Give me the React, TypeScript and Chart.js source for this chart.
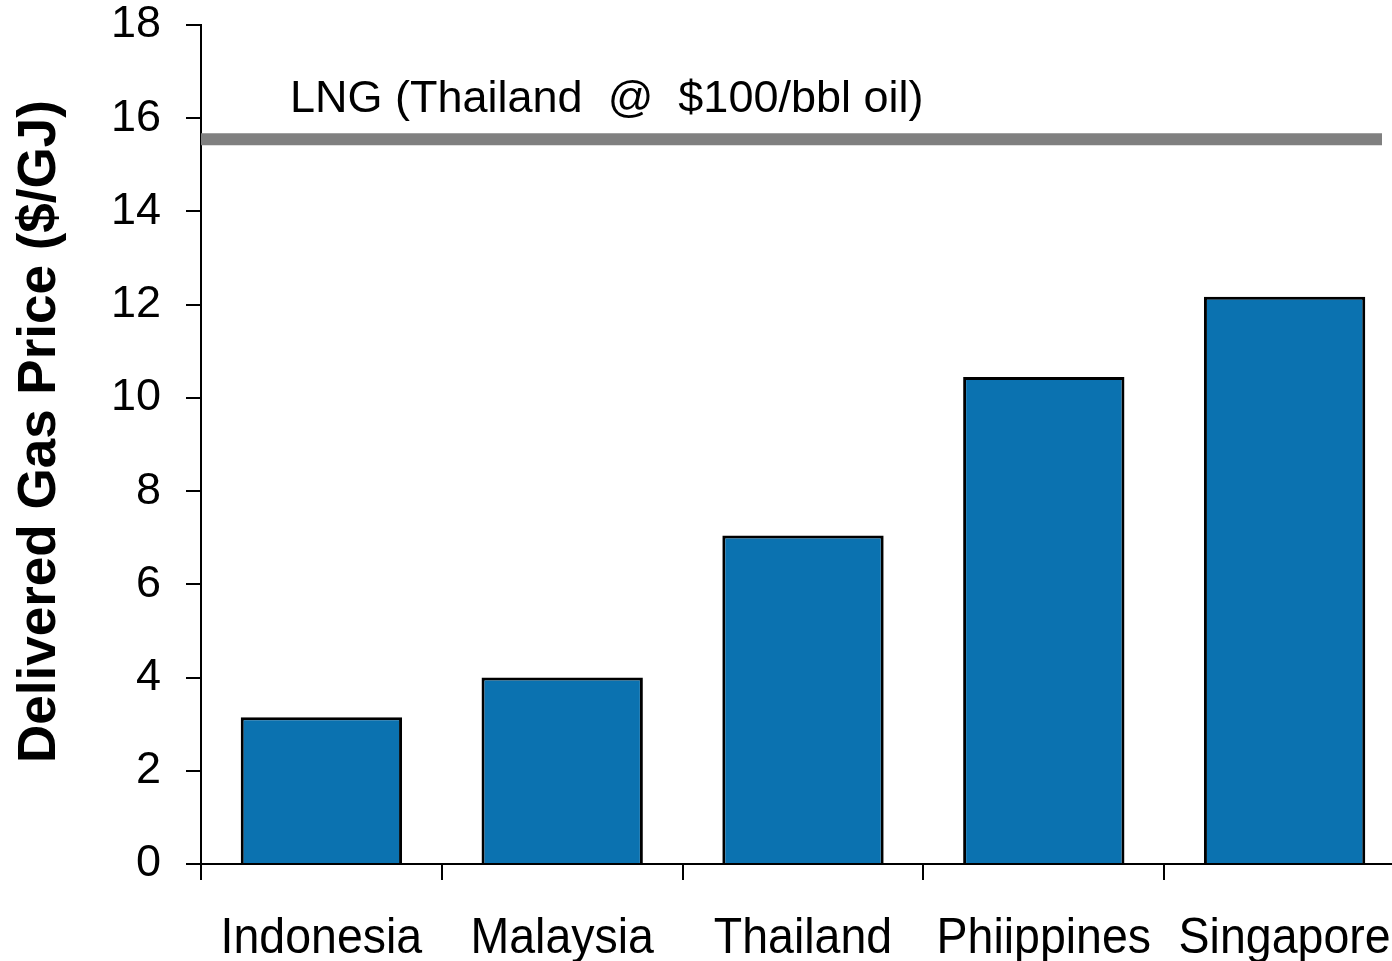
import React, { useEffect, useRef } from "react";
import { Chart, registerables } from "chart.js";

Chart.register(...registerables);

const categories = ["Indonesia", "Malaysia", "Thailand", "Phiippines", "Singapore"];
const prices = [3.15, 4.0, 7.05, 10.45, 12.17];
const lngPrice = 15.55;
const lngLabel = "LNG (Thailand  @  $100/bbl oil)";
const yMin = 0;
const yMax = 18;
const yStep = 2;
const yTitle = "Delivered Gas Price ($/GJ)";

const FONT = "'Liberation Sans', Arial, Helvetica, sans-serif";

const lngPlugin = {
  id: "lngLine",
  afterDatasetsDraw(chart: any) {
    const { ctx, chartArea, scales } = chart;
    const y = scales.y.getPixelForValue(lngPrice);
    ctx.save();
    ctx.strokeStyle = "#808080";
    ctx.lineWidth = 12;
    ctx.beginPath();
    ctx.moveTo(chartArea.left, y);
    ctx.lineTo(chartArea.right - 23, y);
    ctx.stroke();
    ctx.fillStyle = "#000";
    ctx.font = `45px ${FONT}`;
    ctx.textBaseline = "alphabetic";
    ctx.textAlign = "left";
    ctx.fillText(lngLabel, chartArea.left + 89, y - 27);

    // category labels (slightly condensed, as in the reference)
    ctx.font = `50px ${FONT}`;
    ctx.textAlign = "center";
    const baseY = chartArea.bottom + 89;
    categories.forEach((c, i) => {
      const x = scales.x.getPixelForValue(i);
      ctx.save();
      ctx.translate(x, baseY);
      ctx.scale(0.93, 1);
      ctx.fillText(c, 0, 0);
      ctx.restore();
    });

    // y-axis title
    ctx.translate(40, (chartArea.top + chartArea.bottom) / 2 - 13);
    ctx.rotate(-Math.PI / 2);
    ctx.font = `bold 53px ${FONT}`;
    ctx.textAlign = "center";
    ctx.textBaseline = "middle";
    ctx.fillText(yTitle, 0, 0);
    ctx.restore();
  },
};

export default function App() {
  const ref = useRef<HTMLCanvasElement | null>(null);
  useEffect(() => {
    if (!ref.current) return;
    const chart = new Chart(ref.current, {
      type: "bar",
      data: {
        labels: categories,
        datasets: [
          {
            data: prices,
            backgroundColor: "#0b72b0",
            borderColor: "#000",
            borderWidth: 3,
            barPercentage: 0.67,
            categoryPercentage: 1,
          },
        ],
      },
      options: {
        animation: false,
        responsive: true,
        maintainAspectRatio: false,
        layout: { padding: { top: 25, right: 5, left: 0, bottom: 0 } },
        plugins: { legend: { display: false }, tooltip: { enabled: false } },
        scales: {
          x: {
            offset: true,
            grid: {
              display: true,
              offset: true,
              drawOnChartArea: false,
              drawTicks: true,
              tickLength: 16,
              color: "#000",
              lineWidth: 2,
            },
            border: { display: true, color: "#000", width: 2 },
            ticks: {
              display: false,
              autoSkip: false,
            },
            afterFit(scale: any) {
              scale.height = 97;
              scale.paddingLeft = 0;
              scale.paddingRight = 0;
            },
          },
          y: {
            min: yMin,
            max: yMax,
            grid: {
              display: true,
              drawOnChartArea: false,
              drawTicks: true,
              tickLength: 15,
              color: "#000",
              lineWidth: 2,
            },
            border: { display: true, color: "#000", width: 2 },
            ticks: {
              stepSize: yStep,
              color: "#000",
              font: { family: FONT, size: 45, lineHeight: 1.0 },
              padding: 25,
            },
            title: { display: false },
            afterFit(scale: any) {
              scale.width = 201;
              scale.paddingTop = 0;
              scale.paddingBottom = 0;
            },
          },
        },
      },
      plugins: [lngPlugin],
    });
    return () => chart.destroy();
  }, []);

  return (
    <div
      style={{
        position: "fixed",
        left: 0,
        top: 0,
        width: 1392,
        height: 961,
        overflow: "hidden",
        background: "#fff",
      }}
    >
      <div style={{ position: "relative", width: 1410, height: 961 }}>
        <canvas ref={ref} />
      </div>
    </div>
  );
}
